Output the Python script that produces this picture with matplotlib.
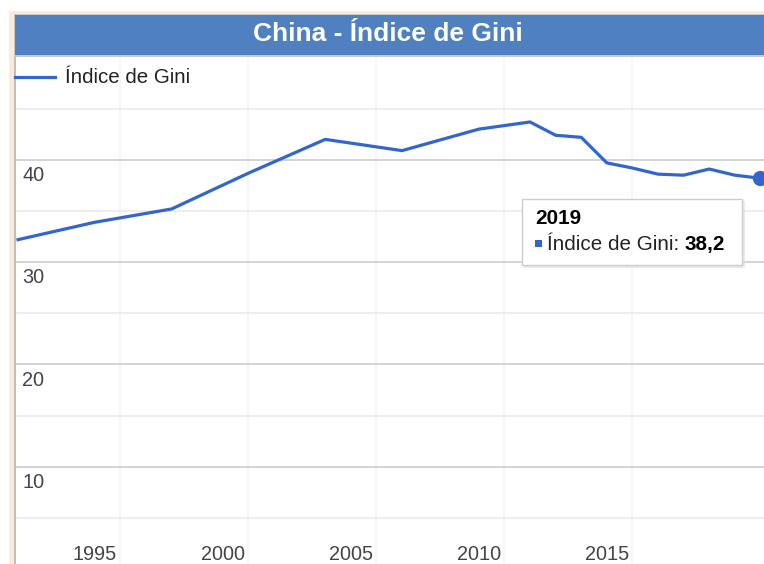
import matplotlib
matplotlib.use("Agg")
import matplotlib.pyplot as plt
from matplotlib.patches import Rectangle

plt.rcParams['font.family'] = ['Liberation Sans', 'DejaVu Sans']

# Gini index of China (World Bank)
years = [1990, 1993, 1996, 1999, 2002, 2005, 2008, 2010, 2011, 2012, 2013,
         2014, 2015, 2016, 2017, 2018, 2019]
gini = [32.2, 33.9, 35.2, 38.7, 42.0, 40.9, 43.0, 43.7, 42.4, 42.2, 39.7,
        39.2, 38.6, 38.5, 39.1, 38.5, 38.2]

tick_labels = ['1995', '2000', '2005', '2010', '2015']
tick_pos = [1993, 1998, 2003, 2008, 2013]      # where the chart prints them
vgrid_pos = [1994, 1999, 2004, 2009, 2014]
major_y = [10, 20, 30, 40]
minor_y = [5, 15, 25, 35, 45]

W, H = 764, 564
BLUE = '#3366cc'
FS = 14.3
FS_TIP = 14.9

fig = plt.figure(figsize=(W / 100, H / 100), dpi=100)


def box(x0, y0, x1, y1):
    # pixel box (top-left origin) -> figure fraction rect
    return (x0 / W, 1 - y1 / H), (x1 - x0) / W, (y1 - y0) / H


# beige frame, title bar
xy, w, h = box(9, 11, W, H)
fig.patches.append(Rectangle(xy, w, h, transform=fig.transFigure,
                             facecolor='#fdebd8', edgecolor='none', zorder=0))
xy, w, h = box(14, 14, W, 57)
fig.patches.append(Rectangle(xy, w, h, transform=fig.transFigure,
                             facecolor='#c8c8c8', edgecolor='none', zorder=1))
xy, w, h = box(15, 15, W, 55)
fig.patches.append(Rectangle(xy, w, h, transform=fig.transFigure,
                             facecolor='#4f80bf', edgecolor='none', zorder=2))
fig.text(388 / W, 1 - 34 / H, 'China - Índice de Gini', color='white',
         fontsize=19, fontweight='bold', ha='center', va='center', zorder=3)

xy, w, h = box(15, 57, W, H)
ax = fig.add_axes([xy[0], xy[1], w, h])
ax.set_zorder(1)
ax.set_facecolor('white')
ax.set_xlim(1989.88, 2019.14)
ax.set_ylim(0.5, 50.05)
for s in ['top', 'right', 'bottom']:
    ax.spines[s].set_visible(False)
ax.spines['left'].set_color('#c0c0c0')
ax.spines['left'].set_linewidth(1.5)
ax.set_xticks([])
ax.set_yticks([])

for v in minor_y:
    ax.axhline(v, color='#ebebeb', lw=1.2, zorder=1)
for v in major_y:
    ax.axhline(v, color='#cccccc', lw=1.2, zorder=1)
for v in vgrid_pos:
    ax.axvline(v, color='#f5f5f5', lw=1.2, zorder=0.5)

for v in major_y:
    ax.text(0.0095, v - 0.6, str(v), transform=ax.get_yaxis_transform(),
            ha='left', va='top', fontsize=FS, color='#444444')
for p, lab in zip(tick_pos, tick_labels):
    ax.text(p, 0.018, lab, transform=ax.get_xaxis_transform(),
            ha='center', va='center', fontsize=FS, color='#444444')

ax.plot(years, gini, color=BLUE, lw=2.3, zorder=3, solid_joinstyle='round')
ax.plot(years[-1], gini[-1], 'o', color=BLUE, ms=10, zorder=4, clip_on=False)

# legend
fig.add_artist(plt.Line2D([15 / W, 55 / W], [1 - 77 / H, 1 - 77 / H],
                          color=BLUE, lw=2.3, zorder=3))
fig.text(65 / W, 1 - 77 / H, 'Índice de Gini', fontsize=14.8,
         color='#222222', ha='left', va='center', zorder=3)

# tooltip
xy, w, h = box(524, 201, 745, 268)
fig.patches.append(Rectangle(xy, w, h, transform=fig.transFigure,
                             facecolor='#dddddd', edgecolor='none', alpha=0.6, zorder=5))
xy, w, h = box(522, 199, 742, 265)
fig.patches.append(Rectangle(xy, w, h, transform=fig.transFigure,
                             facecolor='white', edgecolor='#cccccc', lw=1, zorder=6))
fig.text(535 / W, 1 - 218 / H, str(years[-1]), fontsize=FS_TIP, fontweight='bold',
         color='#000000', ha='left', va='center', zorder=7)
xy, w, h = box(535, 240, 542, 247)
fig.patches.append(Rectangle(xy, w, h, transform=fig.transFigure,
                             facecolor=BLUE, edgecolor='none', zorder=7))
t = fig.text(547 / W, 1 - 244 / H, 'Índice de Gini: ', fontsize=FS_TIP,
             color='#222222', ha='left', va='center', zorder=7)
fig.canvas.draw()
bb = t.get_window_extent()
fig.text(bb.x1 / W, 1 - 244 / H, f'{gini[-1]:.1f}'.replace('.', ','),
         fontsize=FS_TIP, fontweight='bold', color='#000000',
         ha='left', va='center', zorder=7)

fig.savefig('out.png', dpi=100)
